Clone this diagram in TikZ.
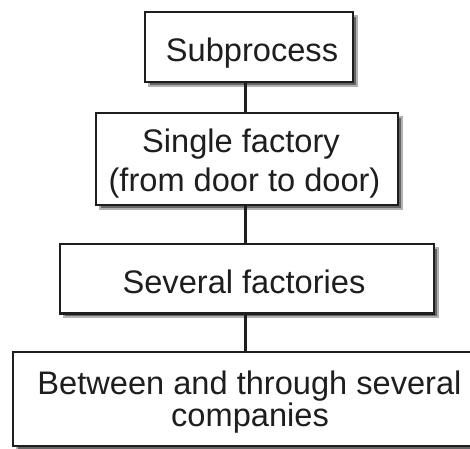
\documentclass[tikz,border=0pt]{standalone}
\usepackage{fontspec}
\setmainfont{Liberation Sans}
\usetikzlibrary{shadows}
\definecolor{ink}{HTML}{1E1E1E}
\tikzset{
  levelbox/.style={draw=ink, line width=2.8pt, fill=white, inner sep=0pt,
    drop shadow={shadow xshift=4pt, shadow yshift=-4pt, fill=black!60,
      draw=black!30, line width=2pt, opacity=1}},
  lbl/.style={anchor=base, inner sep=0pt, text=ink,
    font=\fontsize{32.6}{38}\selectfont},
  link/.style={draw=ink, line width=2.8pt}
}
\begin{document}
\begin{tikzpicture}[x=1pt, y=-1pt]
  \useasboundingbox (0,0) rectangle (470,448);
  \clip (0,0) rectangle (470,448);
  \fill[white] (0,0) rectangle (470,448);

  % vertical axis shared by all connectors
  \coordinate (axis) at (245.6,0);

  % the four levels, from the smallest scope to the widest
  \node[levelbox, minimum width=208pt, minimum height=70pt]   (b1) at (249,47) {};
  \node[levelbox, minimum width=302pt, minimum height=92pt]   (b2) at (247,159) {};
  \node[levelbox, minimum width=374pt, minimum height=69.3pt] (b3) at (247,278.7) {};
  \node[levelbox, minimum width=474pt, minimum height=94pt]   (b4) at (250,399) {};

  % connectors between consecutive levels
  \draw[link] (b1.south -| axis) -- (b2.north -| axis);
  \draw[link] (b2.south -| axis) -- (b3.north -| axis);
  \draw[link] (b3.south -| axis) -- (b4.north -| axis);

  % box texts
  \node[lbl] (t1)  at (252,61)    {Subprocess};
  \node[lbl] (t2a) at (241,152.3) {Single factory};
  \node[lbl] (t2b) at (244.5,191) {(from door to door)};
  \node[lbl] (t3)  at (244,293)   {Several factories};
  \node[lbl] (t4a) at (249.5,394.3) {Between and through several};
  \node[lbl] (t4b) at (250,426.7) {companies};
\end{tikzpicture}
\end{document}
